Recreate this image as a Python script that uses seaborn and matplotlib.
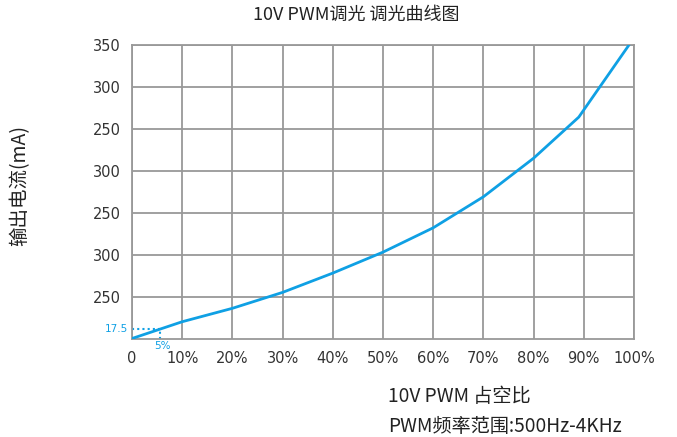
import matplotlib
matplotlib.use("Agg")
import matplotlib.pyplot as plt
import seaborn as sns
import pandas as pd

# data
duty = [0, 10, 20, 30, 40, 50, 60, 70, 80, 89, 99]
current = [0, 20, 36, 55, 78, 103, 132, 169, 215, 264, 350]
x_ticks = [0, 10, 20, 30, 40, 50, 60, 70, 80, 90, 100]
x_labels = ["0", "10%", "20%", "30%", "40%", "50%", "60%", "70%", "80%", "90%", "100%"]
y_ticks = [50, 100, 150, 200, 250, 300, 350]
y_labels = ["250", "300", "250", "300", "250", "300", "350"]
marker_x = 5.5
marker_y = 11.5

sns.set_style("white")
cjk = ["Noto Sans CJK SC", "DejaVu Sans"]
plt.rcParams["font.family"] = cjk

fig = plt.figure(figsize=(6.77, 4.37), dpi=100)
ax = fig.add_axes([132 / 677, 1 - 338.5 / 437, (634 - 132) / 677, (338.5 - 45) / 437])

df = pd.DataFrame({"duty": duty, "current": current})
sns.lineplot(data=df, x="duty", y="current", ax=ax, color="#0fa0e4", linewidth=2, zorder=3)

ax.set_xlim(0, 100)
ax.set_ylim(0, 350)
ax.set_xticks(x_ticks)
ax.set_xticklabels(x_labels, fontfamily="DejaVu Sans", fontsize=10.5, color="#333333")
ax.set_yticks(y_ticks)
ax.set_yticklabels(y_labels, fontfamily="DejaVu Sans", fontsize=10.5, color="#333333")
ax.tick_params(axis="x", length=0, pad=9)
ax.tick_params(axis="y", length=0, pad=8)
ax.grid(True, color="#999999", linewidth=1.3, zorder=0)
ax.set_axisbelow(True)
for s in ax.spines.values():
    s.set_color("#999999")
    s.set_linewidth(1.3)
ax.set_xlabel("")
ax.set_ylabel("")

# dotted marker at 5%
ax.plot([0, marker_x], [marker_y, marker_y], linestyle=(0, (1, 1.5)), color="#0fa0e4", linewidth=1.5, zorder=2)
ax.plot([marker_x, marker_x], [0, marker_y], linestyle=(0, (1, 1.5)), color="#0fa0e4", linewidth=1.5, zorder=2)
ax.text(-0.7, marker_y, "17.5", ha="right", va="center", fontsize=7.5, color="#0fa0e4", fontfamily="DejaVu Sans")
ax.text(6, -3, "5%", ha="center", va="top", fontsize=7.5, color="#0fa0e4", fontfamily="DejaVu Sans")

fig.text(356 / 677, 1 - 15 / 437, "10V PWM调光 调光曲线图", ha="center", va="center", fontsize=13, color="#222222", family=cjk)
fig.text(20 / 677, 1 - 185 / 437, "输出电流(mA)", ha="center", va="center", rotation=90, fontsize=14, color="#222222", family=cjk)
fig.text(388 / 677, 1 - 396 / 437, "10V PWM 占空比", ha="left", va="center", fontsize=13.8, color="#222222", family=cjk)
fig.text(388 / 677, 1 - 426 / 437, "PWM频率范围:500Hz-4KHz", ha="left", va="center", fontsize=13.8, color="#222222", family=cjk)

fig.savefig("out.png", dpi=100)
